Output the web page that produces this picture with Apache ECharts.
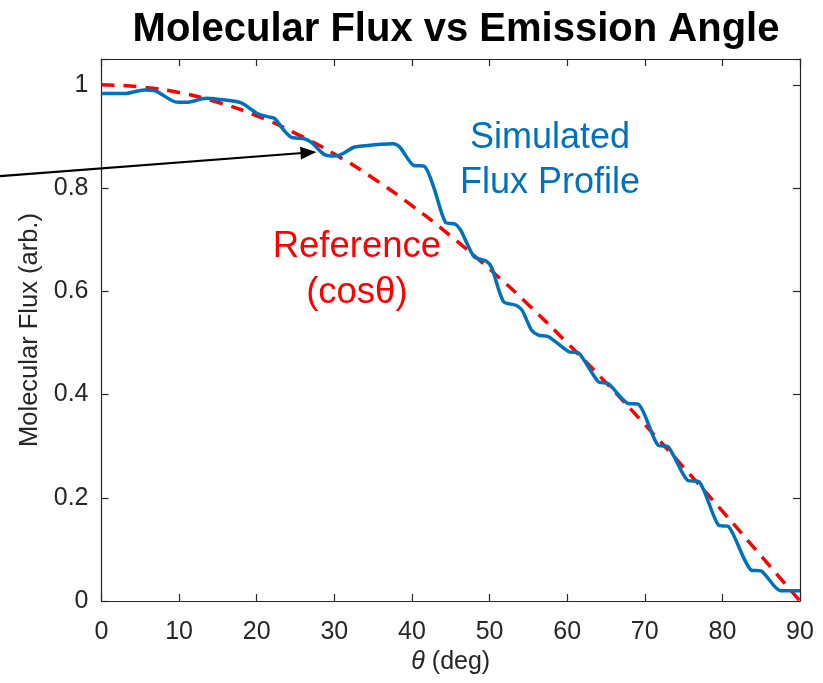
<!DOCTYPE html>
<html>
<head>
<meta charset="utf-8">
<script src="https://cdn.jsdelivr.net/npm/echarts@6/dist/echarts.min.js"></script>
<style>
  html, body { margin: 0; padding: 0; background: #fff; }
  #chart { width: 823px; height: 683px; }
</style>
</head>
<body>
<div id="chart"></div>
<script>
// Emission angle (deg) and simulated flux samples
const simTheta = [0, 3, 5.5, 7, 9.5, 11, 13.5, 15, 18, 20, 21.5, 22.3, 23.5, 24.5, 26, 27, 28.7, 30, 31, 32.5,
  34, 36, 37.6, 38.4, 40.2, 41.6, 42.8, 44.3, 45.6, 46.3, 48, 49.6, 50.3, 51.8, 53.4, 54.2, 55.4, 56.3, 57.6,
  60.2, 61.5, 64, 65.3, 67.8, 69.2, 71.7, 73, 75.5, 77, 79.5, 80.8, 83.7, 85, 87.5, 90];
const simFlux = [0.983, 0.983, 0.990, 0.988, 0.967, 0.966, 0.974, 0.972, 0.965, 0.945, 0.938, 0.935, 0.912, 0.898,
  0.896, 0.889, 0.865, 0.862, 0.866, 0.879, 0.882, 0.885, 0.886, 0.880, 0.844, 0.842, 0.802, 0.734, 0.730, 0.718,
  0.667, 0.658, 0.645, 0.580, 0.573, 0.563, 0.525, 0.515, 0.512, 0.483, 0.480, 0.425, 0.421, 0.383, 0.381,
  0.302, 0.299, 0.234, 0.231, 0.147, 0.144, 0.060, 0.058, 0.020, 0.020];

// Reference cosine profile sampled every 5 degrees
const refTheta = [0, 5, 10, 15, 20, 25, 30, 35, 40, 45, 50, 55, 60, 65, 70, 75, 80, 85, 90];
const refFlux = [1.000, 0.996, 0.985, 0.966, 0.940, 0.906, 0.866, 0.819, 0.766, 0.707, 0.643, 0.574, 0.500,
  0.423, 0.342, 0.259, 0.174, 0.087, 0.000];

// Axis ticks
const xTicks = [0, 10, 20, 30, 40, 50, 60, 70, 80, 90];
const yTicks = [0, 0.2, 0.4, 0.6, 0.8, 1];

const FONT = '"Liberation Sans", Arial, sans-serif';
const AXIS_COLOR = '#262626';
const BLUE = '#0072BD';
const RED = '#FF0000';

const chart = echarts.init(document.getElementById('chart'), null, { renderer: 'canvas' });

const zip = (a, b) => a.map((v, i) => [v, b[i]]);
const fmtY = v => (Math.abs(v) < 1e-9 ? '0' : (Math.abs(v - 1) < 1e-9 ? '1' : v.toFixed(1)));

const frameAxis = {
  axisLine: { show: true, onZero: false, lineStyle: { color: AXIS_COLOR, width: 1.2 } },
  axisTick: { show: true, inside: true, length: 7, lineStyle: { color: AXIS_COLOR, width: 1.2 } },
  splitLine: { show: false }
};

chart.setOption({
  animation: false,
  backgroundColor: '#fff',
  title: {
    text: 'Molecular Flux vs Emission Angle',
    left: 451, textAlign: 'center', top: 5,
    textStyle: { fontFamily: FONT, fontWeight: 'bold', fontSize: 40, color: '#000' }
  },
  grid: { left: 101.5, right: 23, top: 59, bottom: 82 },
  xAxis: [
    Object.assign({
      type: 'value', min: 0, max: 90, interval: 10, position: 'bottom',
      name: '{i|θ} (deg)', nameLocation: 'middle', nameGap: 46,
      nameTextStyle: {
        fontFamily: FONT, fontSize: 25, color: AXIS_COLOR,
        rich: { i: { fontFamily: FONT, fontSize: 25, fontStyle: 'italic', color: AXIS_COLOR } }
      },
      axisLabel: {
        fontFamily: FONT, fontSize: 25, color: AXIS_COLOR, margin: 19,
        formatter: v => (xTicks.includes(v) ? String(v) : '')
      }
    }, frameAxis),
    Object.assign({
      type: 'value', min: 0, max: 90, interval: 10, position: 'top',
      axisLabel: { show: false }
    }, frameAxis)
  ],
  yAxis: [
    Object.assign({
      type: 'value', min: 0, max: 1.05, interval: 0.2, position: 'left',
      name: 'Molecular Flux (arb.)', nameLocation: 'middle', nameGap: 54,
      nameTextStyle: { fontFamily: FONT, fontSize: 25.5, color: AXIS_COLOR },
      axisLabel: {
        fontFamily: FONT, fontSize: 25, color: AXIS_COLOR, margin: 13,
        formatter: v => (yTicks.some(t => Math.abs(t - v) < 1e-9) ? fmtY(v) : '')
      }
    }, frameAxis),
    Object.assign({
      type: 'value', min: 0, max: 1.05, interval: 0.2, position: 'right',
      axisLabel: { show: false }
    }, frameAxis)
  ],
  series: [
    {
      name: 'Reference (cosθ)',
      type: 'line',
      data: zip(refTheta, refFlux),
      smooth: true,
      showSymbol: false,
      lineStyle: { color: RED, width: 3.5, type: [13, 9] },
      z: 3
    },
    {
      name: 'Simulated Flux Profile',
      type: 'line',
      data: zip(simTheta, simFlux),
      smooth: 0.25,
      showSymbol: false,
      lineStyle: { color: BLUE, width: 3.5 },
      z: 4
    }
  ]
});

// Annotations placed in data space
const toPx = p => chart.convertToPixel({ gridIndex: 0 }, p);
const simLabel = toPx([57.8, 0.854]);
const refLabel = toPx([32.9, 0.641]);
const arrowFrom = toPx([-13.07, 0.823]);
const arrowTip = toPx([27.7, 0.870]);

const dx = arrowTip[0] - arrowFrom[0];
const dy = arrowTip[1] - arrowFrom[1];
const len = Math.sqrt(dx * dx + dy * dy);
const ux = dx / len, uy = dy / len;
const headLen = 16, headHalf = 6.5;
const base = [arrowTip[0] - ux * headLen, arrowTip[1] - uy * headLen];

chart.setOption({
  graphic: [
    {
      type: 'text', x: simLabel[0], y: simLabel[1], z: 10,
      style: {
        text: 'Simulated\nFlux Profile', fill: BLUE, font: '36px ' + FONT,
        align: 'center', verticalAlign: 'middle', lineHeight: 45
      }
    },
    {
      type: 'text', x: refLabel[0], y: refLabel[1], z: 10,
      style: {
        text: 'Reference\n(cosθ)', fill: RED, font: '36.5px ' + FONT,
        align: 'center', verticalAlign: 'middle', lineHeight: 46
      }
    },
    {
      type: 'line', z: 10,
      shape: { x1: arrowFrom[0], y1: arrowFrom[1], x2: base[0] + ux * 2, y2: base[1] + uy * 2 },
      style: { stroke: '#000', lineWidth: 2.2 }
    },
    {
      type: 'polygon', z: 10,
      shape: {
        points: [
          arrowTip,
          [base[0] - uy * headHalf, base[1] + ux * headHalf],
          [base[0] + uy * headHalf, base[1] - ux * headHalf]
        ]
      },
      style: { fill: '#000' }
    }
  ]
});
</script>
</body>
</html>
